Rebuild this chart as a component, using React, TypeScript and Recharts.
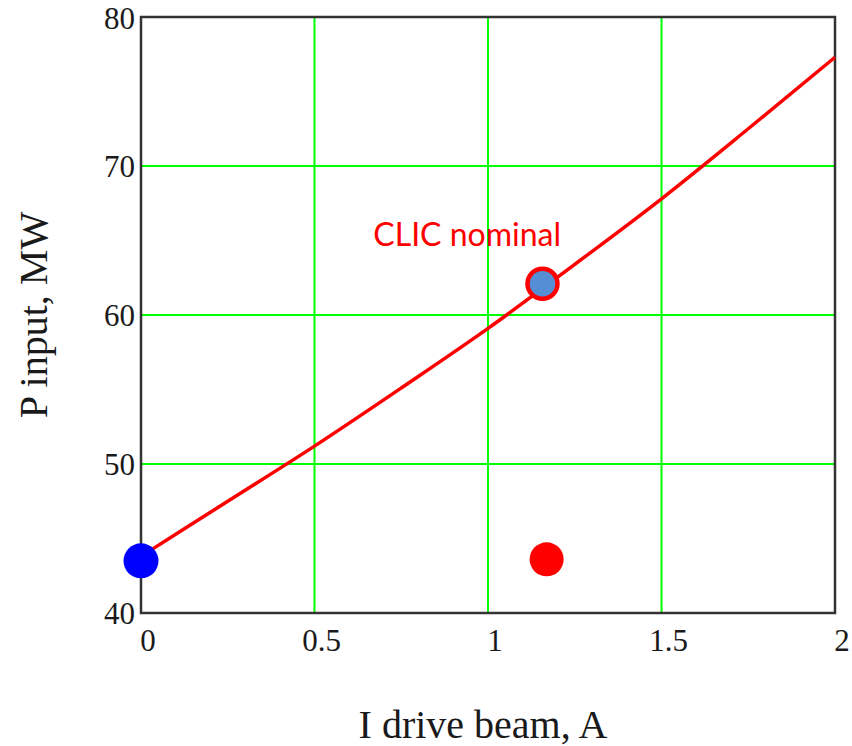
import React from 'react';
import {
  ComposedChart,
  Line,
  Scatter,
  XAxis,
  YAxis,
  CartesianGrid,
  ReferenceArea,
} from 'recharts';

// P input vs drive beam current curve
const current = [0, 0.25, 0.5, 0.75, 1, 1.25, 1.5, 1.75, 2];
const power = [43.8, 47.5, 51.2, 55.1, 59.1, 63.4, 67.8, 72.5, 77.3];

const xTicks = [0, 0.5, 1, 1.5, 2];
const yTicks = [40, 50, 60, 70, 80];

// markers
const startPoint = [{ i: 0, p: 43.5 }];
const nominalPoint = [{ i: 1.157, p: 62.1 }];
const redPoint = [{ i: 1.169, p: 43.6 }];
const notes = [{ i: 0.94, p: 65.5, text: 'CLIC nominal' }];

const curve = current.map((i, k) => ({ i, p: power[k] }));

const serif = '"Liberation Serif", "DejaVu Serif", serif';

export default function App() {
  return (
    <div style={{ position: 'absolute', left: 0, top: 0, background: '#fff' }}>
      <ComposedChart
        width={852}
        height={746}
        margin={{ top: 17, right: 17, bottom: 0, left: 0 }}
      >
        <CartesianGrid stroke="#00FF00" strokeWidth={2} />
        <XAxis
          dataKey="i"
          type="number"
          domain={[0, 2]}
          ticks={xTicks}
          height={133}
          axisLine={false}
          tickLine={false}
          tickSize={0}
          tickMargin={16}
          tick={{ fontFamily: serif, fontSize: 31, fill: '#1a1a1a', dx: 7 }}
          label={{
            content: (props: any) => {
              const vb = props.viewBox;
              return (
                <text
                  x={vb.x + vb.width / 2 - 5}
                  y={vb.y + 125}
                  textAnchor="middle"
                  fontFamily={serif}
                  fontSize={40}
                  fill="#1a1a1a"
                >
                  I drive beam, A
                </text>
              );
            },
          }}
        />
        <YAxis
          dataKey="p"
          type="number"
          domain={[40, 80]}
          ticks={yTicks}
          width={141}
          axisLine={false}
          tickLine={false}
          tickSize={0}
          tickMargin={6}
          tick={{ fontFamily: serif, fontSize: 31, fill: '#1a1a1a' }}
          label={{
            content: (props: any) => {
              const vb = props.viewBox;
              const cx = vb.x + 33;
              const cy = vb.y + vb.height / 2;
              return (
                <text
                  x={cx}
                  y={cy}
                  transform={`rotate(-90, ${cx}, ${cy})`}
                  textAnchor="middle"
                  dominantBaseline="central"
                  fontFamily={serif}
                  fontSize={40}
                  fill="#1a1a1a"
                >
                  P input, MW
                </text>
              );
            },
          }}
        />
        <Line
          data={curve}
          dataKey="p"
          type="monotone"
          stroke="#FF0000"
          strokeWidth={3.5}
          dot={false}
          isAnimationActive={false}
        />
        <ReferenceArea
          x1={0}
          x2={2}
          y1={40}
          y2={80}
          fill="none"
          stroke="#333"
          strokeWidth={2.5}
        />
        <Scatter
          data={startPoint}
          dataKey="p"
          isAnimationActive={false}
          shape={(props: any) => (
            <circle cx={props.cx} cy={props.cy} r={17.5} fill="#0000FF" />
          )}
        />
        <Scatter
          data={redPoint}
          dataKey="p"
          isAnimationActive={false}
          shape={(props: any) => (
            <circle cx={props.cx} cy={props.cy} r={17} fill="#FF0000" />
          )}
        />
        <Scatter
          data={nominalPoint}
          dataKey="p"
          isAnimationActive={false}
          shape={(props: any) => (
            <circle
              cx={props.cx}
              cy={props.cy}
              r={15}
              fill="#558ED5"
              stroke="#FF0000"
              strokeWidth={4.5}
            />
          )}
        />
        <Scatter
          data={notes}
          dataKey="p"
          isAnimationActive={false}
          shape={(props: any) => (
            <text
              x={props.cx}
              y={props.cy}
              textAnchor="middle"
              dominantBaseline="central"
              fontFamily="Lato, 'Open Sans', sans-serif"
              fontSize={32}
              fill="#FF0000"
            >
              {props.payload.text}
            </text>
          )}
        />
      </ComposedChart>
    </div>
  );
}
